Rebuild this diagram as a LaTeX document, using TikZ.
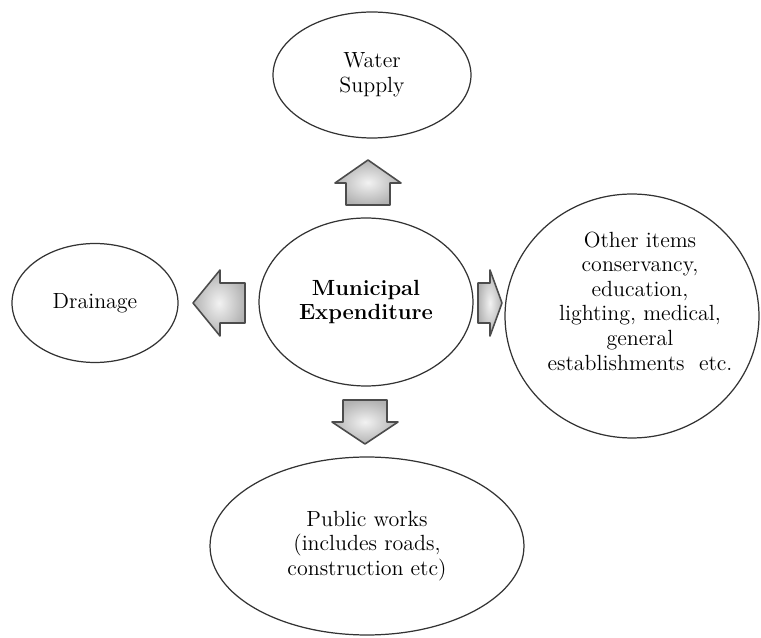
\documentclass[tikz,border=0pt]{standalone}
\usetikzlibrary{shapes.geometric}
\usetikzlibrary{positioning}
\tikzset{bubble/.style = {draw = black!80, line width = 0.7pt, ellipse, inner sep = 0,
                          align = center, font = \fontsize{12.5}{14}\selectfont}}
\tikzset{blockarrow/.style = {draw = black!70, line width = 0.9pt, line join = round,
                              shading = radial, inner color = gray!10, outer color = gray!60}}

\begin{document}
\begin{tikzpicture}[x = 0.02cm, y = -0.02cm]
      \useasboundingbox (0, 0) rectangle (761, 638);

      \node [bubble, minimum width = 4.28cm, minimum height = 3.36cm] (centre) at (366, 302) {\bfseries Municipal\\\bfseries Expenditure};
      \node [bubble, minimum width = 3.96cm, minimum height = 2.52cm] (water) at (372, 75) {Water\\Supply};
      \node [bubble, minimum width = 3.32cm, minimum height = 2.38cm] (drainage) at (95, 303) {Drainage};
      \node [bubble, minimum width = 6.28cm, minimum height = 3.56cm] (works) at (367, 546) {Public works\\(includes roads,\\construction etc)};
      \node [bubble, minimum width = 5.08cm, minimum height = 4.88cm] (others) at (632, 316) {};
      \node [bubble, draw = none] (otherstext) at (640, 301) {Other items\\conservancy,\\education,\\lighting, medical,\\general\\establishments\ \ etc.};

      \coordinate (upTip) at (368, 160);
      \coordinate (downTip) at (365, 444);
      \coordinate (leftTip) at (193, 303);
      \coordinate (rightTip) at (502, 303);

      \draw [blockarrow] (upTip) -- ++(33, 23) -- ++(-11, 0) -- ++(0, 22) -- ++(-44, 0) -- ++(0, -22) -- ++(-11, 0) -- cycle;
      \draw [blockarrow] (downTip) -- ++(33, -22) -- ++(-11, 0) -- ++(0, -22) -- ++(-44, 0) -- ++(0, 22) -- ++(-11, 0) -- cycle;
      \draw [blockarrow] (leftTip) -- ++(27, -33) -- ++(0, 13) -- ++(25, 0) -- ++(0, 40) -- ++(-25, 0) -- ++(0, 13) -- cycle;
      \draw [blockarrow] (rightTip) -- ++(-12, -33) -- ++(0, 13) -- ++(-12, 0) -- ++(0, 40) -- ++(12, 0) -- ++(0, 13) -- cycle;
    \end{tikzpicture}
\end{document}
